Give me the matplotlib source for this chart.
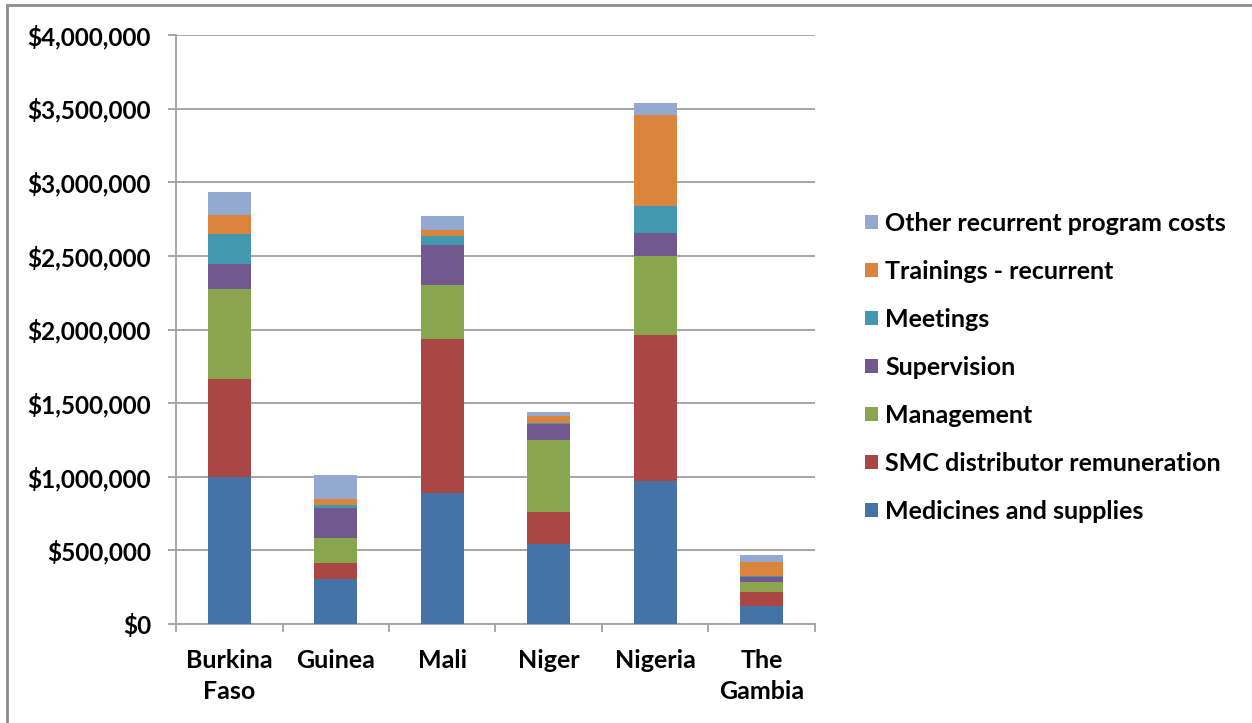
import numpy as np
import matplotlib
matplotlib.use('Agg')
import matplotlib.pyplot as plt
from matplotlib.patches import Rectangle
from matplotlib.ticker import FuncFormatter, MultipleLocator

countries = ['Burkina\nFaso', 'Guinea', 'Mali', 'Niger', 'Nigeria', 'The\nGambia']

# values (USD)
medicines = [1000000, 303000, 887000, 544000, 972000, 119000]
distributor = [661000, 109000, 1046000, 215000, 993000, 98000]
management = [616000, 172000, 368000, 493000, 535000, 66000]
supervision = [165000, 206000, 272000, 108000, 157000, 35000]
meetings = [206000, 16000, 59000, 7000, 179000, 9000]
trainings = [131000, 41000, 41000, 47000, 624000, 96000]
other = [158000, 162000, 99000, 25000, 75000, 47000]

series_names = ['Medicines and supplies', 'SMC distributor remuneration', 'Management',
                'Supervision', 'Meetings', 'Trainings - recurrent',
                'Other recurrent program costs']
series = [medicines, distributor, management, supervision, meetings, trainings, other]
colors = ['#4572A7', '#AA4643', '#89A54E', '#71588F', '#4198AF', '#DB843D', '#93A9CF']

plt.rcParams['font.family'] = ['Lato', 'DejaVu Sans']
plt.rcParams['font.weight'] = 'bold'

fig = plt.figure(figsize=(12.52, 7.23), dpi=100)
ax = fig.add_axes([176 / 1252, 99 / 723, 639 / 1252, 589 / 723])

x = np.arange(len(countries))
bottom = np.zeros(len(countries))
for vals, name, c in zip(series, series_names, colors):
    ax.bar(x, vals, 0.4, bottom=bottom, color=c, label=name, zorder=3,
           edgecolor='none')
    bottom += np.array(vals)

ax.set_xlim(-0.5, len(countries) - 0.5)
ax.set_ylim(0, 4000000)
ax.yaxis.set_major_locator(MultipleLocator(500000))
ax.yaxis.set_major_formatter(FuncFormatter(lambda v, p: '${:,.0f}'.format(v)))
ax.grid(axis='y', color='#a6a6a6', linewidth=1.4, zorder=0)

for s in ['top', 'right']:
    ax.spines[s].set_visible(False)
ax.spines['left'].set_color('#a6a6a6')
ax.spines['bottom'].set_color('#a6a6a6')
ax.spines['left'].set_linewidth(1.4)
ax.spines['bottom'].set_linewidth(1.4)

ax.set_xticks(x)
ax.set_xticklabels(countries, fontsize=18, fontweight='bold', linespacing=1.4)
ax.set_xticks(np.arange(-0.5, len(countries)), minor=True)
ax.tick_params(axis='x', which='major', length=0, pad=18)
ax.tick_params(axis='x', which='minor', length=6, color='#a6a6a6', width=1.4)
ax.tick_params(axis='y', length=6, color='#a6a6a6', width=1.4, labelsize=17.5, pad=12)
for lab in ax.get_yticklabels():
    lab.set_fontweight('bold')

handles, labels = ax.get_legend_handles_labels()
leg = fig.legend(handles[::-1], labels[::-1], loc='upper left',
                 bbox_to_anchor=(855 / 1252, 1 - 202 / 723), frameon=False,
                 fontsize=18, handlelength=0.5, handleheight=0.5,
                 handletextpad=0.3, labelspacing=1.0, borderaxespad=0)
for t in leg.get_texts():
    t.set_fontweight('bold')

# outer chart frame
fig.patches.append(Rectangle((7 / 1252, -0.05), 1.1, 1 - 5 / 723 + 0.05,
                             transform=fig.transFigure, fill=False,
                             edgecolor='#8c8c8c', linewidth=2))

fig.savefig('out.png', dpi=100)
